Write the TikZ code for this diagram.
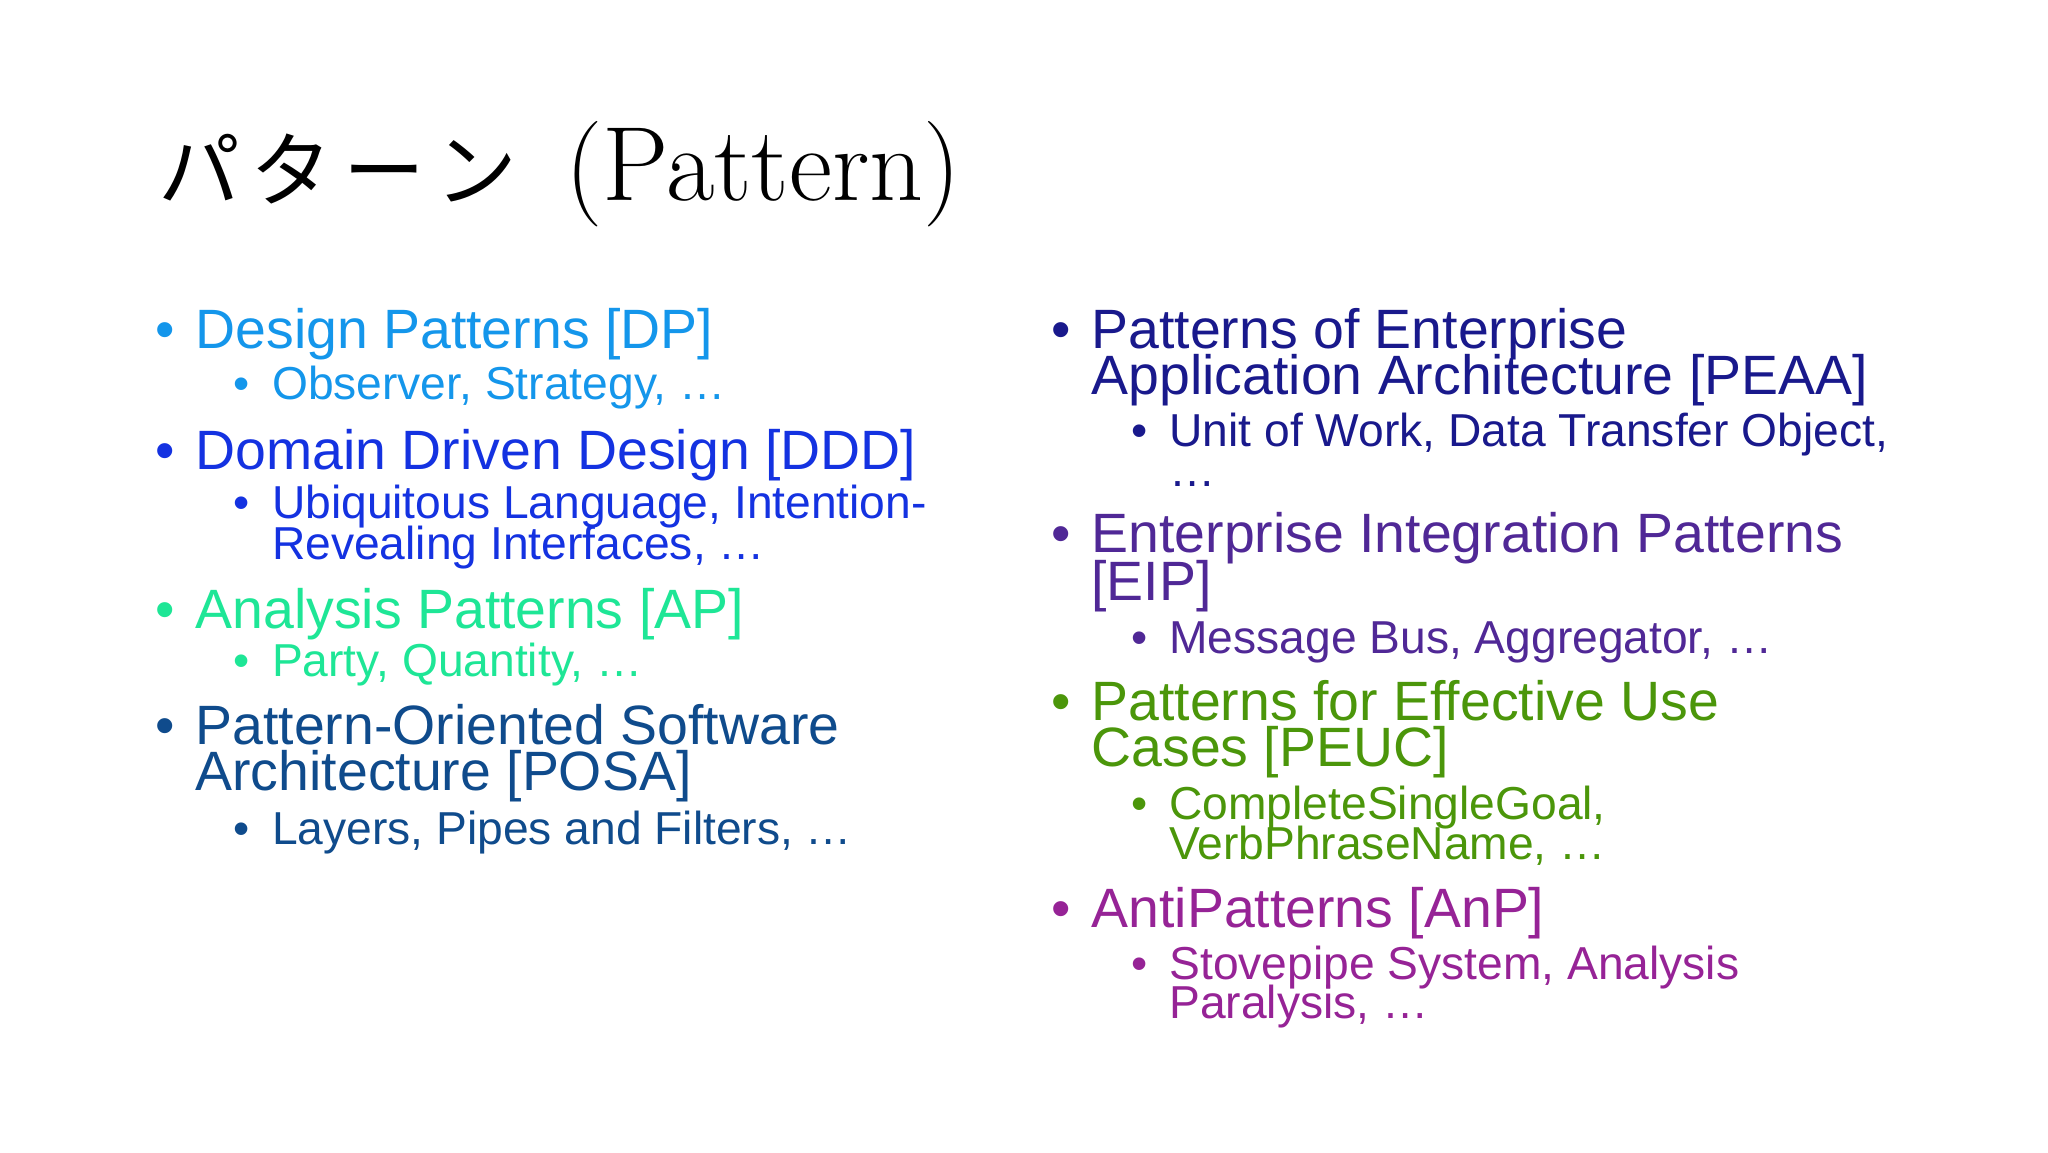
\documentclass[tikz,border=0pt]{standalone}
\usepackage{fontspec}
\setsansfont{Liberation Sans}
\newfontfamily\cjk{Noto Sans CJK JP}
\definecolor{cDP}{RGB}{20,150,235}
\definecolor{cDDD}{RGB}{20,50,225}
\definecolor{cAP}{RGB}{30,230,150}
\definecolor{cPOSA}{RGB}{15,75,140}
\definecolor{cPEAA}{RGB}{25,25,140}
\definecolor{cEIP}{RGB}{80,40,150}
\definecolor{cPEUC}{RGB}{75,150,10}
\definecolor{cAnP}{RGB}{150,35,150}
\tikzset{
 big/.style={anchor=base west,inner sep=0pt,font=\sffamily\fontsize{42}{42}\selectfont},
 small/.style={anchor=base west,inner sep=0pt,font=\sffamily\fontsize{35}{35}\selectfont},
}
\begin{document}
\begin{tikzpicture}[x=1pt,y=-1pt]
\useasboundingbox[fill=white] (0,0) rectangle (1552,873);
\node[anchor=base west,inner sep=0pt] (jp) at (120,152) {\cjk\fontsize{62}{62}\selectfont パ\hspace{8pt}タ\hspace{8pt}ー\hspace{8pt}ン};
\node[anchor=base west,inner sep=0pt] (title) at (428,152) {\fontsize{80}{80}\selectfont (Pattern)};
% left column
\node[big,text=cDP] (b1) at (118,264) {•}; \node[big,text=cDP] (dp) at (148,264) {Design Patterns [DP]};
\node[small,text=cDP] (s1) at (177,303) {•}; \node[small,text=cDP] (dps) at (206,303) {Observer, Strategy, …};
\node[big,text=cDDD] (b2) at (118,356) {•}; \node[big,text=cDDD] (ddd) at (148,356) {Domain Driven Design [DDD]};
\node[small,text=cDDD] (s2) at (177,393) {•}; \node[small,text=cDDD] (ddds1) at (206,393) {Ubiquitous Language, Intention-};
\node[small,text=cDDD] (ddds2) at (206,424) {Revealing Interfaces, …};
\node[big,text=cAP] (b3) at (118,476) {•}; \node[big,text=cAP] (ap) at (148,476) {Analysis Patterns [AP]};
\node[small,text=cAP] (s3) at (177,513) {•}; \node[small,text=cAP] (aps) at (206,513) {Party, Quantity, …};
\node[big,text=cPOSA] (b4) at (118,564) {•}; \node[big,text=cPOSA] (posa1) at (148,564) {Pattern-Oriented Software};
\node[big,text=cPOSA] (posa2) at (148,599) {Architecture [POSA]};
\node[small,text=cPOSA] (s4) at (177,640) {•}; \node[small,text=cPOSA] (posas) at (206,640) {Layers, Pipes and Filters, …};
% right column
\node[big,text=cPEAA] (b5) at (797,264) {•}; \node[big,text=cPEAA] (peaa1) at (827,264) {Patterns of Enterprise};
\node[big,text=cPEAA] (peaa2) at (827,299) {Application Architecture [PEAA]};
\node[small,text=cPEAA] (s5) at (857,338) {•}; \node[small,text=cPEAA] (peaas1) at (886,338) {Unit of Work, Data Transfer Object,};
\node[small,text=cPEAA] (peaas2) at (886,369) {…};
\node[big,text=cEIP] (b6) at (797,419) {•}; \node[big,text=cEIP] (eip1) at (827,419) {Enterprise Integration Patterns};
\node[big,text=cEIP] (eip2) at (827,455) {[EIP]};
\node[small,text=cEIP] (s6) at (857,495) {•}; \node[small,text=cEIP] (eips) at (886,495) {Message Bus, Aggregator, …};
\node[big,text=cPEUC] (b7) at (797,546) {•}; \node[big,text=cPEUC] (peuc1) at (827,546) {Patterns for Effective Use};
\node[big,text=cPEUC] (peuc2) at (827,581) {Cases [PEUC]};
\node[small,text=cPEUC] (s7) at (857,621) {•}; \node[small,text=cPEUC] (peucs1) at (886,621) {CompleteSingleGoal,};
\node[small,text=cPEUC] (peucs2) at (886,651) {VerbPhraseName, …};
\node[big,text=cAnP] (b8) at (797,703) {•}; \node[big,text=cAnP] (anp) at (827,703) {AntiPatterns [AnP]};
\node[small,text=cAnP] (s8) at (857,742) {•}; \node[small,text=cAnP] (anps1) at (886,742) {Stovepipe System, Analysis};
\node[small,text=cAnP] (anps2) at (886,772) {Paralysis, …};
\end{tikzpicture}
\end{document}
